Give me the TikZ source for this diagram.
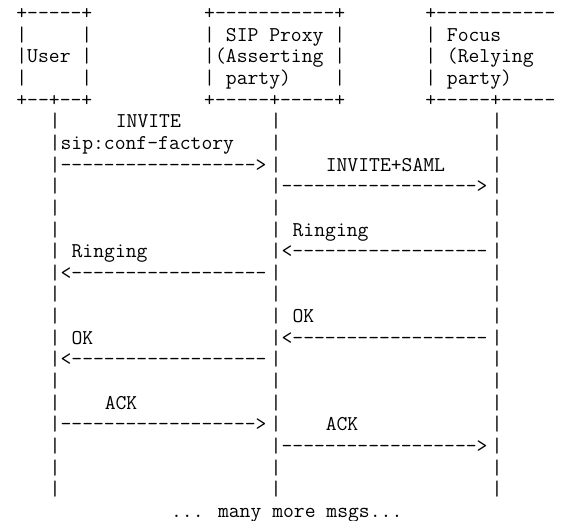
\documentclass[tikz,border=0pt]{standalone}
\usepackage{fontspec}
\tikzset{
  txt/.style={font=\ttfamily\fontsize{11.43}{11.43}\selectfont, anchor=base west,
    inner sep=0pt, outer sep=0pt}
}
\begin{document}
\begin{tikzpicture}[x=6pt, y=-11.756pt, every node/.style={txt}]
  \useasboundingbox (-8.9pt,10.59pt) rectangle (296.25pt,-271.76pt);
  % The three boxes at the top, one text line at a time
  \foreach \row/\user/\proxy/\focus in {
      0/{+-----+}/{+-----------+}/{+-----------},
      1/{|~~~~~|}/{|~SIP~Proxy~|}/{|~Focus},
      2/{|User~|}/{|(Asserting~|}/{|~(Relying},
      3/{|~~~~~|}/{|~party)~~~~|}/{|~party)},
      4/{+--+--+}/{+-----+-----+}/{+-----+-----}} {
    \node (user\row) at (0,\row) {\user};
    \node (proxy\row) at (17,\row) {\proxy};
    \node (focus\row) at (37,\row) {\focus};
  }
  % Life lines below each box
  \foreach \row in {5,...,22} {
    \foreach \col in {3,23,43} {
      \node (life\col-\row) at (\col,\row) {|};
    }
  }
  % INVITE
  \node (invite) at (9,5) {INVITE};
  \node (inviteuri) at (4,6) {sip:conf-factory};
  \node (invitea) at (4,7) {------------------>};
  \node (invitesaml) at (28,7) {INVITE+SAML};
  \node (inviteb) at (24,8) {------------------>};
  % Ringing
  \node (ringingb) at (25,10) {Ringing};
  \node (ringinga) at (5,11) {Ringing};
  \node (ringbarr) at (24,11) {<------------------};
  \node (ringaarr) at (4,12) {<------------------};
  % OK
  \node (okb) at (25,14) {OK};
  \node (oka) at (5,15) {OK};
  \node (okbarr) at (24,15) {<------------------};
  \node (okaarr) at (4,16) {<------------------};
  % ACK
  \node (acka) at (8,18) {ACK};
  \node (ackaarr) at (4,19) {------------------>};
  \node (ackb) at (28,19) {ACK};
  \node (ackbarr) at (24,20) {------------------>};
  \node (more) at (14,23) {... many more msgs...};
\end{tikzpicture}
\end{document}
